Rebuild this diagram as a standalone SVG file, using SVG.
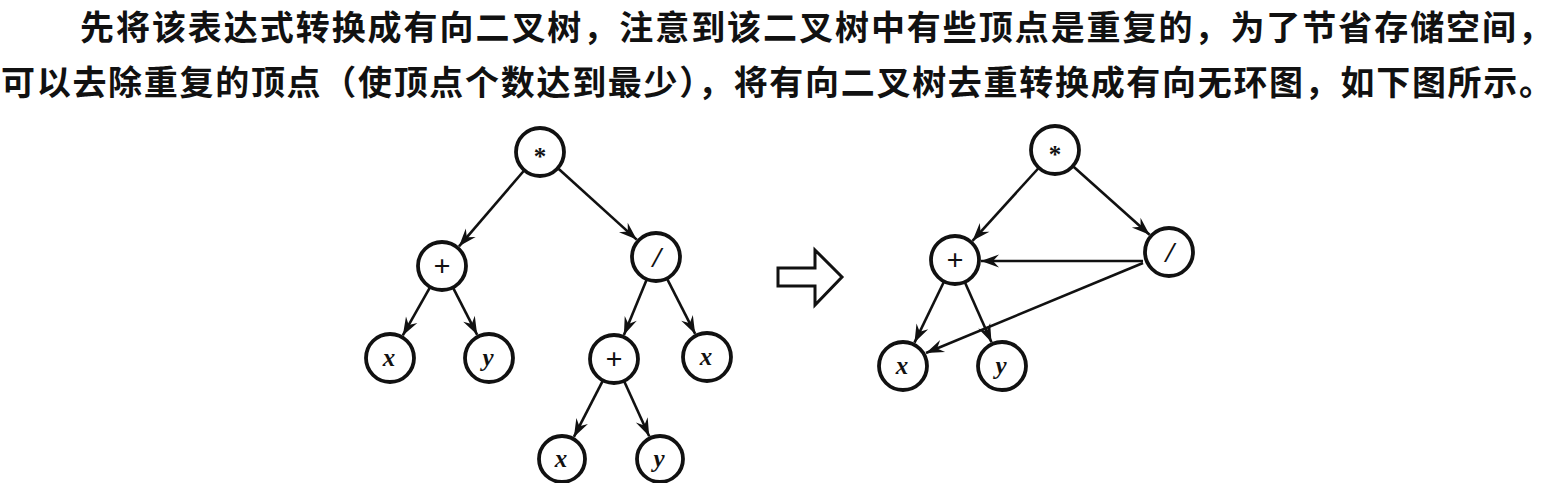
<svg xmlns="http://www.w3.org/2000/svg" width="1563" height="483" viewBox="0 0 1563 483">
<style>
.t{font-family:"Noto Sans CJK SC","Noto Sans CJK JP",sans-serif;font-size:34px;font-weight:700;fill:#111}
.n circle{fill:#fff;stroke:#111;stroke-width:3.8}
.lbl{font-family:"Liberation Serif",serif;font-weight:700;font-size:25px;fill:#111;text-anchor:middle}
.op{font-size:30px}
.it{font-style:italic}
.e line{stroke:#111;stroke-width:2.6;marker-end:url(#ah)}
</style>
<defs>
<marker id="ah" markerUnits="userSpaceOnUse" markerWidth="22" markerHeight="16" viewBox="-18 -8 20 16" refX="0" refY="0" orient="auto">
<path d="M0,0 L-18,-6.5 L-12,0 L-18,6.5 Z" fill="#111"/>
</marker>
</defs>
<rect width="1563" height="483" fill="#fff"/>
<text class="t" x="80" y="40" textLength="1472" lengthAdjust="spacing">先将该表达式转换成有向二叉树，注意到该二叉树中有些顶点是重复的，为了节省存储空间，</text>
<text class="t" x="1" y="95" textLength="1552" lengthAdjust="spacing">可以去除重复的顶点（使顶点个数达到最少），将有向二叉树去重转换成有向无环图，如下图所示。</text>

<g class="e" id="connectors">
<line x1="523.7" y1="171" x2="459" y2="246.3"/>
<line x1="558.5" y1="168.8" x2="636.7" y2="239.6"/>
<line x1="429.7" y1="287.8" x2="402.8" y2="335.4"/>
<line x1="453.4" y1="288.3" x2="477.2" y2="334.8"/>
<line x1="646.5" y1="280.1" x2="623.9" y2="335"/>
<line x1="667.4" y1="279.3" x2="695.2" y2="333.9"/>
<line x1="602.6" y1="381.2" x2="573.9" y2="436.9"/>
<line x1="624.4" y1="381.8" x2="649.2" y2="436.3"/>
<line x1="1038.2" y1="168.5" x2="972.5" y2="240.8"/>
<line x1="1073.6" y1="166.7" x2="1149.6" y2="234.7"/>
<line x1="1143" y1="261" x2="981" y2="261"/>
<line x1="1143" y1="263" x2="926" y2="353"/>
<line x1="943.7" y1="282.3" x2="914.5" y2="342.6"/>
<line x1="965.1" y1="282.8" x2="991.5" y2="342.2"/>
</g>

<g id="hollow-arrow">
<polygon points="778,268 815,268 815,250 842,277 815,305 815,286 778,286" fill="#fff" stroke="#111" stroke-width="3" stroke-linejoin="miter"/>
</g>

<g class="n" id="L-mul"><circle cx="540" cy="152" r="24"/><text class="lbl" x="540" y="165">*</text></g>
<g class="n" id="L-plus1"><circle cx="442" cy="266" r="24"/><text class="lbl op" x="442" y="276">+</text></g>
<g class="n" id="L-div"><circle cx="656" cy="257" r="24"/><text class="lbl op it" x="657" y="267">/</text></g>
<g class="n" id="L-x1"><circle cx="390" cy="358" r="24"/><text class="lbl it" x="389" y="366">x</text></g>
<g class="n" id="L-y1"><circle cx="489" cy="358" r="24"/><text class="lbl it" x="488" y="366">y</text></g>
<g class="n" id="L-plus2"><circle cx="614" cy="359" r="24"/><text class="lbl op" x="614" y="369">+</text></g>
<g class="n" id="L-x2"><circle cx="707" cy="357" r="24"/><text class="lbl it" x="706" y="365">x</text></g>
<g class="n" id="L-x3"><circle cx="562" cy="459" r="23"/><text class="lbl it" x="561" y="467">x</text></g>
<g class="n" id="L-y3"><circle cx="660" cy="459" r="23"/><text class="lbl it" x="659" y="467">y</text></g>

<g class="n" id="R-mul"><circle cx="1055" cy="150" r="24"/><text class="lbl" x="1055" y="163">*</text></g>
<g class="n" id="R-plus"><circle cx="955" cy="260" r="24"/><text class="lbl op" x="955" y="270">+</text></g>
<g class="n" id="R-div"><circle cx="1169" cy="252" r="24"/><text class="lbl op it" x="1170" y="262">/</text></g>
<g class="n" id="R-x"><circle cx="903" cy="366" r="24"/><text class="lbl it" x="902" y="374">x</text></g>
<g class="n" id="R-y"><circle cx="1002" cy="366" r="24"/><text class="lbl it" x="1001" y="374">y</text></g>
</svg>
